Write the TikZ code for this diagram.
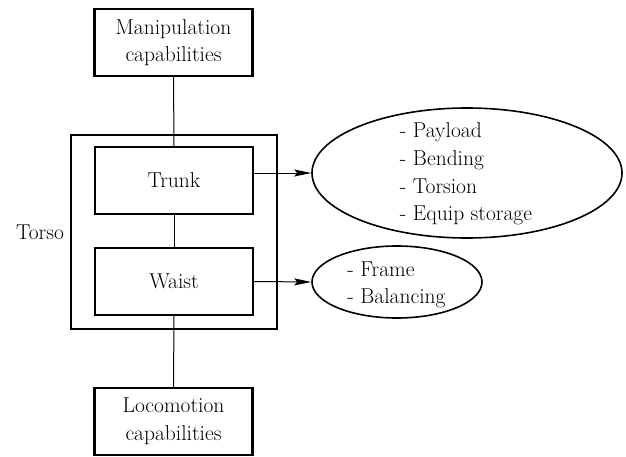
\documentclass[tikz,border=0pt]{standalone}
\usepackage{fontspec}
\usetikzlibrary{shapes.geometric,arrows.meta}
\begin{document}
\begin{tikzpicture}[x=1pt,y=1pt,
  every node/.style={font=\rmfamily\fontsize{21.5}{27.7}\selectfont},
  blockbox/.style={draw,line width=2.2pt,minimum width=158pt,minimum height=67pt,inner sep=0pt,align=center},
  outerbox/.style={draw,line width=2.2pt,minimum width=206pt,minimum height=194pt,inner sep=0pt},
  oval/.style={draw,ellipse,line width=1.6pt,inner sep=0pt},
  link/.style={line width=1pt},
  arr/.style={line width=1pt,-{Stealth[length=17pt,width=7pt,inset=3pt]}}
]
\useasboundingbox (0,0) rectangle (626,456);
\node[outerbox] (torso) at (174,{456-232}) {};
\node (torsolbl) at (40,{456-232}) {Torso};
\node[blockbox] (manip) at (173.5,{456-42.5}) {Manipulation\\capabilities};
\node[blockbox,fill=white] (trunk) at (174,{456-180.5}) {Trunk};
\node[blockbox,fill=white] (waist) at (174,{456-281.5}) {Waist};
\node[blockbox] (loco) at (173.5,{456-421.5}) {Locomotion\\capabilities};
\node[oval,minimum width=310pt,minimum height=130pt] (big) at (467,{456-173}) {};
\node[align=left,inner sep=0pt] (bigtxt) at (466,{456-174}) {- Payload\\- Bending\\- Torsion\\- Equip storage};
\node[oval,minimum width=170pt,minimum height=72pt] (small) at (397,{456-282}) {};
\node[align=left,inner sep=0pt] (smalltxt) at (396.5,{456-285}) {- Frame\\- Balancing};
\draw[link] (manip.south) -- (trunk.north);
\draw[link] (trunk.south) -- (waist.north);
\draw[link] (waist.south) -- (loco.north);
\draw[arr] (trunk.east |- big.west) -- (big.west);
\draw[arr] (waist.east) -- (small.west);
\end{tikzpicture}
\end{document}
